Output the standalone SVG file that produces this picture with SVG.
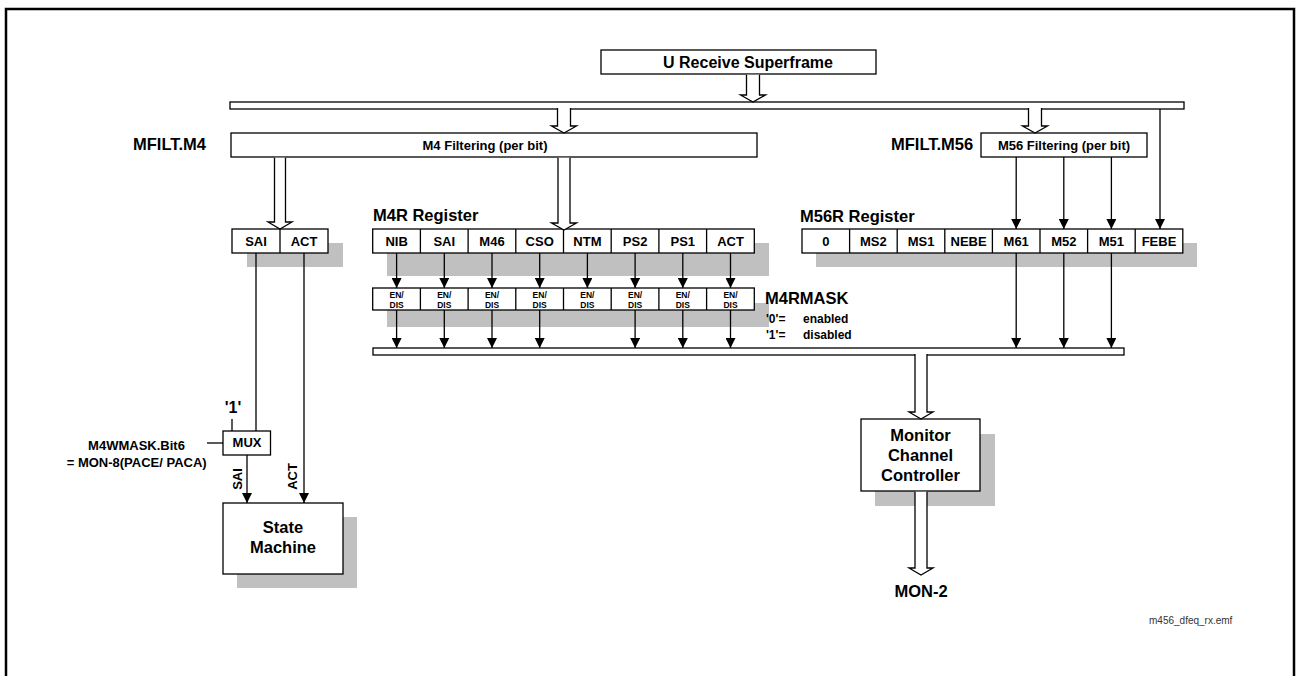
<svg xmlns="http://www.w3.org/2000/svg" width="1297" height="676" viewBox="0 0 1297 676">
<style>
.bx{fill:#fff;stroke:#000;stroke-width:1.3}
.sh{fill:#c0c0c0;stroke:none}
.ln{stroke:#000;stroke-width:1.3;fill:none}
.ha{fill:#fff;stroke:#000;stroke-width:1.3;stroke-linejoin:miter}
text{font-family:"Liberation Sans",Arial,sans-serif;font-weight:bold;fill:#000}
.c{text-anchor:middle}
.h{font-size:16.5px}
.t13{font-size:13px}
.cell{font-size:13px;text-anchor:middle}
.ed{font-size:8.5px;text-anchor:middle}
.m{font-size:12px}
.fn{font-size:10px;font-weight:normal;fill:#333}
</style>
<defs>
<marker id="ah" markerUnits="userSpaceOnUse" markerWidth="10" markerHeight="10" refX="10" refY="5" orient="auto">
<path d="M0,0 L10,5 L0,10 z" fill="#000"/>
</marker>
</defs>
<rect x="6" y="9" width="1288" height="700" fill="#fff" stroke="#000" stroke-width="2.5"/>

<g id="superframe">
<rect class="bx" x="601" y="50" width="275" height="24"/>
<text class="c" x="748" y="68" style="font-size:16px">U Receive Superframe</text>
</g>

<g id="mfilt-m4">
<text class="h" x="133" y="150">MFILT.M4</text>
<rect class="bx" x="231" y="133" width="526" height="24"/>
<text class="c t13" x="485" y="149.5">M4 Filtering (per bit)</text>
</g>

<g id="mfilt-m56">
<text class="h" x="891" y="150">MFILT.M56</text>
<rect class="bx" x="981" y="133" width="166" height="24"/>
<text class="c t13" x="1064" y="149.5">M56 Filtering (per bit)</text>
</g>

<g id="sai-act">
<rect class="sh" x="247" y="243" width="96" height="24"/>
<rect class="bx" x="232" y="229" width="96" height="24"/>
<line class="ln" x1="280" y1="229" x2="280" y2="253"/>
<text class="cell" x="256" y="245.5">SAI</text>
<text class="cell" x="304" y="245.5">ACT</text>
</g>

<g id="m4r">
<text class="h" x="373" y="221">M4R Register</text>
<rect class="sh" x="387" y="243" width="382" height="33"/>
<rect class="bx" x="372.7" y="229" width="381.6" height="24"/>
<path class="ln" d="M420.4,229V253M468.1,229V253M515.8,229V253M563.5,229V253M611.2,229V253M658.9,229V253M706.6,229V253"/>
<text class="cell" x="396.6" y="245.5">NIB</text>
<text class="cell" x="444.3" y="245.5">SAI</text>
<text class="cell" x="492" y="245.5">M46</text>
<text class="cell" x="539.7" y="245.5">CSO</text>
<text class="cell" x="587.4" y="245.5">NTM</text>
<text class="cell" x="635.1" y="245.5">PS2</text>
<text class="cell" x="682.8" y="245.5">PS1</text>
<text class="cell" x="730.5" y="245.5">ACT</text>
</g>

<g id="m4rmask">
<rect class="sh" x="387" y="303" width="382" height="24"/>
<rect class="bx" x="372.7" y="288" width="381.6" height="22"/>
<path class="ln" d="M420.4,288V310M468.1,288V310M515.8,288V310M563.5,288V310M611.2,288V310M658.9,288V310M706.6,288V310"/>
<text class="ed" x="396.6" y="297.5">EN/</text><text class="ed" x="396.6" y="307.5">DIS</text>
<text class="ed" x="444.3" y="297.5">EN/</text><text class="ed" x="444.3" y="307.5">DIS</text>
<text class="ed" x="492" y="297.5">EN/</text><text class="ed" x="492" y="307.5">DIS</text>
<text class="ed" x="539.7" y="297.5">EN/</text><text class="ed" x="539.7" y="307.5">DIS</text>
<text class="ed" x="587.4" y="297.5">EN/</text><text class="ed" x="587.4" y="307.5">DIS</text>
<text class="ed" x="635.1" y="297.5">EN/</text><text class="ed" x="635.1" y="307.5">DIS</text>
<text class="ed" x="682.8" y="297.5">EN/</text><text class="ed" x="682.8" y="307.5">DIS</text>
<text class="ed" x="730.5" y="297.5">EN/</text><text class="ed" x="730.5" y="307.5">DIS</text>
<text class="h" x="765" y="304">M4RMASK</text>
<text class="m" y="323"><tspan x="766">'0'= </tspan><tspan x="803">enabled</tspan></text>
<text class="m" y="339"><tspan x="766">'1'= </tspan><tspan x="803">disabled</tspan></text>
</g>

<g id="m56r">
<text class="h" x="800" y="222">M56R Register</text>
<rect class="sh" x="816" y="243" width="381" height="24"/>
<rect class="bx" x="802" y="229" width="380.8" height="24"/>
<path class="ln" d="M849.6,229V253M897.2,229V253M944.8,229V253M992.4,229V253M1040,229V253M1087.6,229V253M1135.2,229V253"/>
<text class="cell" x="825.8" y="245.5">0</text>
<text class="cell" x="873.4" y="245.5">MS2</text>
<text class="cell" x="921" y="245.5">MS1</text>
<text class="cell" x="968.6" y="245.5">NEBE</text>
<text class="cell" x="1016.2" y="245.5">M61</text>
<text class="cell" x="1063.8" y="245.5">M52</text>
<text class="cell" x="1111.4" y="245.5">M51</text>
<text class="cell" x="1159" y="245.5">FEBE</text>
</g>

<g id="mux">
<rect class="bx" x="223" y="431" width="47.5" height="24"/>
<text class="c t13" x="247" y="447">MUX</text>
<text class="c" x="233" y="413" style="font-size:16px">'1'</text>
<text class="c t13" x="136.5" y="450">M4WMASK.Bit6</text>
<text class="c t13" x="136.7" y="467">= MON-8(PACE/ PACA)</text>
</g>

<g id="state-machine">
<rect class="sh" x="237" y="517" width="120" height="71"/>
<rect class="bx" x="223" y="503" width="120" height="71"/>
<text class="c h" x="283" y="533">State</text>
<text class="c h" x="283" y="553">Machine</text>
</g>

<g id="mcc">
<rect class="sh" x="875" y="434" width="120" height="72"/>
<rect class="bx" x="861" y="419" width="119" height="72"/>
<text class="c h" x="920.5" y="441">Monitor</text>
<text class="c h" x="920.5" y="461">Channel</text>
<text class="c h" x="920.5" y="481">Controller</text>
</g>

<g id="mon2">
<text class="c h" x="921" y="597">MON-2</text>
</g>

<g id="connectors">
<rect class="bx" x="230" y="102" width="954" height="7"/>
<rect class="bx" x="373" y="348" width="751" height="7"/>
<path class="ha" d="M746.5,74.7V95H740.5L753,102L765.5,95H759.5V74.7"/>
<path class="ha" d="M557.5,108V126H551.5L564,133L576.5,126H570.5V108"/>
<path class="ha" d="M1028.5,108V126H1022.5L1035,133L1047.5,126H1041.5V108"/>
<path class="ha" d="M274.5,157.7V222H268L280,229L292,222H285.5V157.7"/>
<path class="ha" d="M558,157.7V223H551.5L564,230L576.5,223H570V157.7"/>
<path class="ha" d="M915,354V412H909L921,419L933,412H927V354"/>
<path class="ha" d="M915,491.7V568H909L921,575L933,568H927V491.7"/>
<g class="ln" marker-end="url(#ah)">
<line x1="396.6" y1="253" x2="396.6" y2="288"/>
<line x1="444.3" y1="253" x2="444.3" y2="288"/>
<line x1="492" y1="253" x2="492" y2="288"/>
<line x1="539.7" y1="253" x2="539.7" y2="288"/>
<line x1="587.4" y1="253" x2="587.4" y2="288"/>
<line x1="635.1" y1="253" x2="635.1" y2="288"/>
<line x1="682.8" y1="253" x2="682.8" y2="288"/>
<line x1="730.5" y1="253" x2="730.5" y2="288"/>
<line x1="396.6" y1="310" x2="396.6" y2="348"/>
<line x1="444.3" y1="310" x2="444.3" y2="348"/>
<line x1="492" y1="310" x2="492" y2="348"/>
<line x1="539.7" y1="310" x2="539.7" y2="348"/>
<line x1="635.1" y1="310" x2="635.1" y2="348"/>
<line x1="682.8" y1="310" x2="682.8" y2="348"/>
<line x1="730.5" y1="310" x2="730.5" y2="348"/>
<line x1="1016.2" y1="157" x2="1016.2" y2="229"/>
<line x1="1063.8" y1="157" x2="1063.8" y2="229"/>
<line x1="1111.4" y1="157" x2="1111.4" y2="229"/>
<line x1="1160" y1="109" x2="1160" y2="229"/>
<line x1="1016.2" y1="253" x2="1016.2" y2="348"/>
<line x1="1063.8" y1="253" x2="1063.8" y2="348"/>
<line x1="1111.4" y1="253" x2="1111.4" y2="348"/>
<line x1="304" y1="253" x2="304" y2="503"/>
<line x1="247" y1="455" x2="247" y2="503"/>
</g>
<line class="ln" x1="256" y1="253" x2="256" y2="431"/>
<line class="ln" x1="232" y1="419" x2="232" y2="431"/>
<line class="ln" x1="207" y1="443" x2="223" y2="443"/>
<text class="t13" transform="translate(242,479) rotate(-90)" text-anchor="middle">SAI</text>
<text class="t13" transform="translate(297,476.5) rotate(-90)" text-anchor="middle">ACT</text>
</g>

<text class="fn" x="1149" y="624">m456_dfeq_rx.emf</text>
</svg>
